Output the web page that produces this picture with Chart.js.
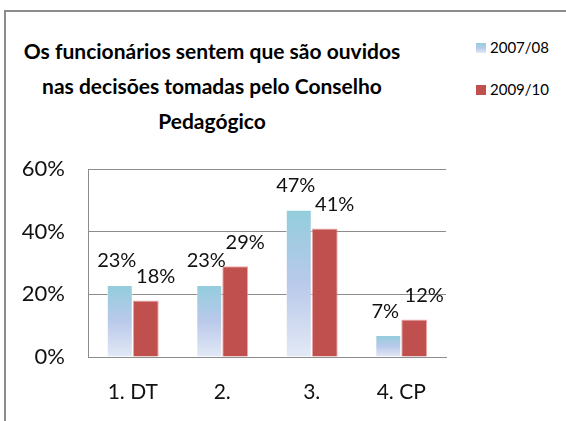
<!DOCTYPE html>
<html>
<head>
<meta charset="utf-8">
<script src="https://cdn.jsdelivr.net/npm/chart.js@4/dist/chart.umd.min.js"></script>
<style>
  html, body { margin: 0; padding: 0; background: #fff; overflow: hidden; }
  body { width: 566px; height: 421px; position: relative; font-family: Lato, "Open Sans", sans-serif; }
  .frame { position: absolute; left: 4px; top: 10px; width: 620px; height: 460px; border: 2px solid #8c8c8c; }
  .title { position: absolute; left: 12px; width: 400px; top: 33px; text-align: center;
           font-weight: bold; font-size: 21px; line-height: 35px; color: #000; }
  .legend { position: absolute; left: 476px; top: 37px; font-size: 15px; color: #000; }
  .legend div { height: 42px; line-height: 20px; white-space: nowrap; }
  .legend span.sw { display: inline-block; width: 10px; height: 10px; margin-right: 4px; vertical-align: 0px; }
  canvas { position: absolute; left: 0; top: 0; }
</style>
</head>
<body>
<div class="frame"></div>
<div class="title">Os funcionários sentem que são ouvidos<br>nas decisões tomadas pelo Conselho<br>Pedagógico</div>
<div class="legend">
  <div><span class="sw" style="background: linear-gradient(#92cddc, #b9c9ea, #e3e9f6);"></span>2007/08</div>
  <div><span class="sw" style="background: #c0504d;"></span>2009/10</div>
</div>
<canvas id="chart" width="566" height="421"></canvas>
<script>
// dados (percentagens)
const categories = ['1. DT', '2.', '3.', '4. CP'];
const series2007 = [23, 23, 47, 7];
const series2009 = [18, 29, 41, 12];
const yTicks = [0, 20, 40, 60];

// degradê vertical por barra (azul claro → lavanda → quase branco)
function blueGradient(c) {
    const chart = c.chart;
    if (!chart.chartArea || c.type !== 'data') return '#b9c9ea';
    const y = chart.scales.y;
    const top = y.getPixelForValue(c.raw);
    const bottom = y.getPixelForValue(0);
    const g = chart.ctx.createLinearGradient(0, top, 0, bottom);
    g.addColorStop(0, '#92cddc');
    g.addColorStop(0.5, '#b9c9ea');
    g.addColorStop(1, '#e3e9f6');
    return g;
}

// rótulos de valor acima das barras
const valueLabels = {
    id: 'valueLabels',
    afterDatasetsDraw(chart) {
        const ctx = chart.ctx;
        ctx.save();
        ctx.font = '20px Lato, "Open Sans", sans-serif';
        ctx.fillStyle = '#111';
        ctx.textAlign = 'center';
        ctx.textBaseline = 'middle';
        chart.data.datasets.forEach((ds, i) => {
            const dx = i === 0 ? -3 : 10;
            chart.getDatasetMeta(i).data.forEach((bar, j) => {
                ctx.fillText(ds.data[j] + '%', bar.x + dx, bar.y - 24);
            });
        });
        ctx.restore();
    }
};

new Chart(document.getElementById('chart'), {
    type: 'bar',
    data: {
        labels: categories,
        datasets: [
            {
                label: '2007/08',
                data: series2007,
                backgroundColor: blueGradient,
                borderColor: 'rgba(255,255,255,0.6)',
                borderWidth: 1,
                categoryPercentage: 0.58,
                barPercentage: 1.0
            },
            {
                label: '2009/10',
                data: series2009,
                backgroundColor: '#c0504d',
                borderColor: 'rgba(236,150,150,0.8)',
                borderWidth: 1,
                categoryPercentage: 0.58,
                barPercentage: 1.0
            }
        ]
    },
    options: {
        responsive: false,
        animation: false,
        layout: { padding: { left: 0, top: 169, right: 120, bottom: 0 } },
        plugins: {
            legend: { display: false },
            title: { display: false },
            tooltip: { enabled: false }
        },
        scales: {
            x: {
                grid: { display: false, drawTicks: false },
                border: { display: true, color: '#8c8c8c', width: 1 },
                ticks: { color: '#111', font: { size: 21, family: 'Lato' }, padding: 23 },
                afterFit: (s) => { s.height = 64; }
            },
            y: {
                min: 0,
                max: 60,
                afterBuildTicks: (s) => { s.ticks = yTicks.map(v => ({ value: v })); },
                grid: { color: '#8c8c8c', drawTicks: false },
                border: { display: true, color: '#8c8c8c', width: 1 },
                ticks: {
                    color: '#111',
                    font: { size: 22, family: 'Lato' },
                    padding: 23,
                    callback: (v) => v + '%'
                },
                afterFit: (s) => { s.width = 88; }
            }
        }
    },
    plugins: [valueLabels]
});
</script>
</body>
</html>
